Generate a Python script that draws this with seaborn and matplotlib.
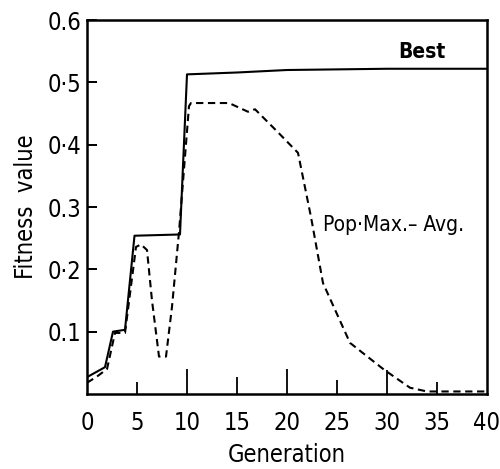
import seaborn as sb
import matplotlib.pyplot as plt
import pandas as pd

# Best individual fitness per generation
best_gen = [0, 1.8, 2.6, 3.8, 4.75, 9.3, 10.0, 15, 20, 25, 30, 40]
best_fit = [0.027, 0.043, 0.100, 0.103, 0.254, 0.256, 0.513, 0.516, 0.520, 0.521, 0.522, 0.522]

# Population max - average
pop_gen = [0, 1.0, 2.0, 2.8, 3.8, 4.9, 5.4, 6.0, 6.5, 7.2, 7.9, 8.5, 9.2, 10.2, 10.4,
           14.2, 16.1, 16.8, 19.1, 21.1, 22.4, 23.6, 26.3, 29.7, 32.3, 34, 40]
pop_fit = [0.018, 0.028, 0.040, 0.098, 0.098, 0.236, 0.240, 0.231, 0.150, 0.060, 0.060,
           0.140, 0.260, 0.462, 0.467, 0.467, 0.453, 0.457, 0.420, 0.387, 0.284, 0.178,
           0.082, 0.039, 0.010, 0.004, 0.004]

xtick_vals = [0, 5, 10, 15, 20, 25, 30, 35, 40]
xtick_len = [0, 9, 18, 12, 18, 10, 17, 9, 0]
ytick_vals = [0.1, 0.2, 0.3, 0.4, 0.5, 0.6]
ytick_labels = ["0.1", "0·2", "0.3", "0·4", "0·5", "0.6"]

plt.rcParams['font.family'] = ['DejaVu Sans']
plt.rcParams['font.stretch'] = 'condensed'
plt.rcParams.update({
    "xtick.direction": "in", "ytick.direction": "in",
    "xtick.major.width": 1.3, "ytick.major.width": 1.3,
    "xtick.major.size": 9, "ytick.major.size": 7,
})

fig = plt.figure(figsize=(5, 4.69), dpi=100)
ax = fig.add_axes([0.174, 0.160, 0.800, 0.797])

best = pd.DataFrame({"gen": best_gen, "fit": best_fit})
pop = pd.DataFrame({"gen": pop_gen, "fit": pop_fit})

sb.lineplot(x="gen", y="fit", data=best, ax=ax, color="black", linewidth=1.5)
sb.lineplot(x="gen", y="fit", data=pop, ax=ax, color="black", linewidth=1.5,
            linestyle=(0, (3.5, 2.2)))

ax.set_xlim(0, 40)
ax.set_ylim(0, 0.6)
ax.set_xticks(xtick_vals)
ax.set_yticks(ytick_vals, ytick_labels)
ax.tick_params(axis="both", which="major", labelsize=17)
ax.tick_params(axis="x", pad=12)
ax.tick_params(axis="y", pad=4)
for tick, ln in zip(ax.xaxis.get_major_ticks(), xtick_len):
    tick.tick1line.set_markersize(ln)
# short inward marks on the y axis (0.1 .. 0.5)
ax.hlines(ytick_vals[:-1], 0, 0.024, transform=ax.get_yaxis_transform(),
          color="black", linewidth=1.3)
for s in ax.spines.values():
    s.set_linewidth(1.8)

ax.set_xlabel("Generation", fontsize=17, labelpad=6)
ax.set_ylabel("Fitness  value", fontsize=17, labelpad=7)

ax.text(33.5, 0.549, "Best", fontsize=15, fontweight="bold", ha="center", va="center")
ax.text(23.6, 0.271, "Pop·Max.– Avg.", fontsize=15, ha="left", va="center")

plt.savefig("out.png", dpi=100)
